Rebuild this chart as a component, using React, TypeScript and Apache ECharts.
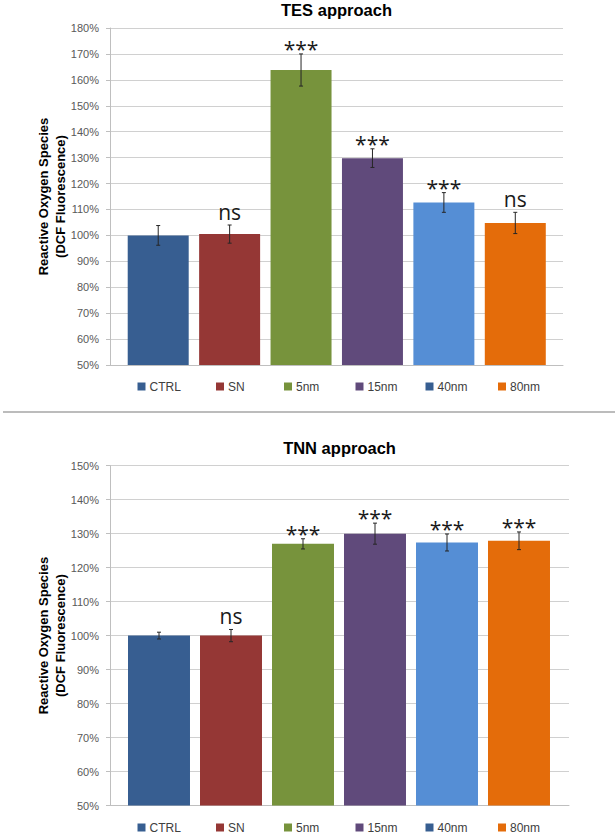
import React, { useEffect, useRef } from "react";
import * as echarts from "echarts";

// ---------- data ----------
const categories = ["CTRL", "SN", "5nm", "15nm", "40nm", "80nm"];
const barColors = ["#375E91", "#953735", "#77933C", "#604A7B", "#558ED5", "#E46C0A"];
const legendColors = ["#375E91", "#953735", "#77933C", "#604A7B", "#375E91", "#E46C0A"];

const tesTitle = "TES approach";
const tesValues = [100, 100.5, 163.8, 129.8, 112.7, 104.8];
const tesErrors = [3.8, 3.5, 6.2, 3.6, 3.8, 4.1];
const tesMarks = ["", "ns", "***", "***", "***", "ns"];
const tesAxis = { min: 50, max: 180, interval: 10 };

const tnnTitle = "TNN approach";
const tnnValues = [100, 100, 127, 130, 127.4, 127.9];
const tnnErrors = [1.0, 1.8, 1.5, 3.1, 2.5, 2.6];
const tnnMarks = ["", "ns", "***", "***", "***", "***"];
const tnnAxis = { min: 50, max: 150, interval: 10 };

const yName1 = "Reactive Oxygen Species";
const yName2 = "(DCF Fluorescence)";

// ---------- layout ----------
const FONT = "'Liberation Sans', Arial, sans-serif";
const ANNOT_FONT = "'Open Sans', 'Liberation Sans', sans-serif";
const legendLefts = [137.5, 216, 284, 355.5, 425.5, 498];

type Panel = {
  title: string;
  values: number[];
  errors: number[];
  marks: string[];
  axis: { min: number; max: number; interval: number };
  axesGrid: { left: number; top: number; width: number; height: number };
  barsGrid: { left: number; top: number; width: number; height: number };
  gap: string;
  legendTop: number;
};

const panels: Panel[] = [
  {
    title: tesTitle,
    values: tesValues,
    errors: tesErrors,
    marks: tesMarks,
    axis: tesAxis,
    axesGrid: { left: 110, top: 28, width: 453, height: 337 },
    barsGrid: { left: 122.5, top: 28, width: 428.5, height: 337 },
    gap: "14.6%",
    legendTop: 380.5,
  },
  {
    title: tnnTitle,
    values: tnnValues,
    errors: tnnErrors,
    marks: tnnMarks,
    axis: tnnAxis,
    axesGrid: { left: 110, top: 465.7, width: 459, height: 339.8 },
    barsGrid: { left: 123, top: 465.7, width: 432, height: 339.8 },
    gap: "13.9%",
    legendTop: 821.5,
  },
];

function buildOption() {
  const grid: any[] = [];
  const xAxis: any[] = [];
  const yAxis: any[] = [];
  const series: any[] = [];
  const legend: any[] = [];
  const graphic: any[] = [];

  panels.forEach((p) => {
    const gA = grid.length;
    grid.push({ ...p.axesGrid, containLabel: false });
    grid.push({ ...p.barsGrid, containLabel: false });
    const gB = gA + 1;

    // axes grid
    xAxis.push({
      gridIndex: gA,
      type: "category",
      data: [""],
      axisLine: { show: true, lineStyle: { color: "#BFBFBF", width: 1 } },
      axisTick: { show: false },
      axisLabel: { show: false },
      splitLine: { show: false },
    });
    yAxis.push({
      gridIndex: gA,
      type: "value",
      min: p.axis.min,
      max: p.axis.max,
      interval: p.axis.interval,
      axisLine: { show: true, lineStyle: { color: "#BFBFBF", width: 1 } },
      axisTick: { show: true, length: 4, lineStyle: { color: "#BFBFBF" } },
      axisLabel: {
        formatter: "{value}%",
        color: "#595959",
        fontSize: 11,
        fontFamily: FONT,
        margin: 11,
      },
      splitLine: { show: true, lineStyle: { color: "#D0D0D0", width: 1 } },
    });
    // bars grid (same scale, hidden)
    xAxis.push({ gridIndex: gB, type: "category", data: categories, show: false });
    yAxis.push({
      gridIndex: gB,
      type: "value",
      min: p.axis.min,
      max: p.axis.max,
      interval: p.axis.interval,
      show: false,
      splitLine: { show: false },
    });
    const xi = xAxis.length - 1;
    const yi = yAxis.length - 1;

    categories.forEach((c, i) => {
      series.push({
        type: "bar",
        name: c,
        xAxisIndex: xi,
        yAxisIndex: yi,
        barGap: "-100%",
        barCategoryGap: p.gap,
        data: categories.map((_, j) => (j === i ? p.values[i] : "-")),
        itemStyle: { color: barColors[i] },
        silent: true,
      });
    });

    // error bars
    series.push({
      type: "custom",
      xAxisIndex: xi,
      yAxisIndex: yi,
      silent: true,
      z: 5,
      data: p.values.map((v, i) => [i, v - p.errors[i], v + p.errors[i]]),
      renderItem: (params: any, api: any) => {
        const x = api.value(0);
        const lo = api.coord([x, api.value(1)]);
        const hi = api.coord([x, api.value(2)]);
        const cap = 2;
        const st = { stroke: "#262626", lineWidth: 1 };
        return {
          type: "group",
          children: [
            { type: "line", shape: { x1: lo[0], y1: lo[1], x2: hi[0], y2: hi[1] }, style: st },
            { type: "line", shape: { x1: lo[0] - cap, y1: lo[1], x2: lo[0] + cap, y2: lo[1] }, style: st },
            { type: "line", shape: { x1: hi[0] - cap, y1: hi[1], x2: hi[0] + cap, y2: hi[1] }, style: st },
          ],
        };
      },
    });

    // significance marks
    const marks = p.marks;
    series.push({
      type: "custom",
      xAxisIndex: xi,
      yAxisIndex: yi,
      silent: true,
      z: 6,
      data: p.values.map((v, i) => [i, v + p.errors[i]]),
      renderItem: (params: any, api: any) => {
        const txt = marks[params.dataIndex];
        if (!txt) return null;
        const pt = api.coord([api.value(0), api.value(1)]);
        const isStar = txt.indexOf("*") >= 0;
        return {
          type: "text",
          x: pt[0],
          y: pt[1] - (isStar ? 5 : 13),
          style: {
            text: txt,
            textAlign: "center",
            textVerticalAlign: "middle",
            font: `21px ${ANNOT_FONT}`,
            fill: "#1a1a1a",
          },
        };
      },
    });

    // legends
    categories.forEach((c, i) => {
      legend.push({
        left: legendLefts[i],
        top: p.legendTop,
        padding: 0,
        itemWidth: 8,
        itemHeight: 8,
        itemGap: 0,
        icon: "rect",
        selectedMode: false,
        data: [{ name: c, itemStyle: { color: legendColors[i] } }],
        textStyle: { color: "#404040", fontSize: 12, fontFamily: FONT, padding: [0, 0, 0, -1] },
      });
    });

    // title
    const cx = p.axesGrid.left + p.axesGrid.width / 2;
    graphic.push({
      type: "text",
      x: cx,
      y: p.axesGrid.top - 18,
      style: {
        text: p.title,
        textAlign: "center",
        textVerticalAlign: "middle",
        font: `bold 16.5px ${FONT}`,
        fill: "#000000",
      },
    });
    // y axis name (two rotated lines)
    const cy = p.axesGrid.top + p.axesGrid.height / 2;
    graphic.push({
      type: "text",
      x: 43,
      y: cy,
      rotation: Math.PI / 2,
      style: {
        text: yName1,
        textAlign: "center",
        textVerticalAlign: "middle",
        font: `bold 13px ${FONT}`,
        fill: "#000000",
      },
    });
    graphic.push({
      type: "text",
      x: 60,
      y: cy,
      rotation: Math.PI / 2,
      style: {
        text: yName2,
        textAlign: "center",
        textVerticalAlign: "middle",
        font: `bold 13px ${FONT}`,
        fill: "#000000",
      },
    });
  });

  // separator line between the two panels
  graphic.push({
    type: "line",
    shape: { x1: 3, y1: 412, x2: 615, y2: 412 },
    style: { stroke: "#A6A6A6", lineWidth: 1.5 },
  });

  return {
    animation: false,
    backgroundColor: "#ffffff",
    textStyle: { fontFamily: FONT },
    grid,
    xAxis,
    yAxis,
    series,
    legend,
    graphic,
  };
}

export default function App() {
  const ref = useRef<HTMLDivElement>(null);
  useEffect(() => {
    if (!ref.current) return;
    const chart = echarts.init(ref.current, undefined, { renderer: "svg" });
    chart.setOption(buildOption() as any);
    return () => chart.dispose();
  }, []);
  return (
    <div
      ref={ref}
      style={{ position: "absolute", left: 0, top: 0, width: 615, height: 835, background: "#fff" }}
    />
  );
}
